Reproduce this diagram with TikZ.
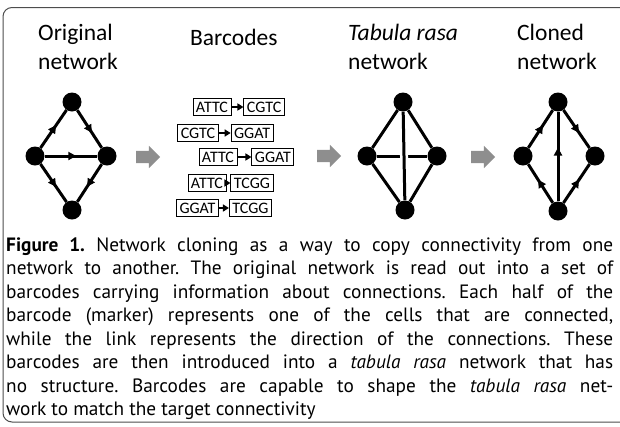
\documentclass[tikz,border=0pt]{standalone}
\usepackage{fontspec}
\setmainfont{PT Sans}
\newfontfamily\calfont{Carlito}
\usepackage{xcolor}
\definecolor{ncink}{HTML}{000000}
\definecolor{ncgrey}{HTML}{8E8E8E}
\definecolor{ncframe}{HTML}{4D4D4D}
\usetikzlibrary{arrows.meta,positioning,calc,decorations.markings,shapes.arrows}
\frenchspacing
\tikzset{
  nccell/.style ={circle, fill=ncink, minimum size=19pt, inner sep=0pt},
  ncedge/.style ={line width=3pt, draw=ncink},
  ncdir/.style  ={ncedge, postaction={decorate},
                  decoration={markings, mark=at position 0.6 with {\arrow{Triangle[length=8pt,width=8pt]}}}},
  ncbar/.style  ={rectangle, draw=ncink, line width=0.9pt, minimum height=17pt,
                  inner xsep=3pt, inner ysep=0pt, font=\calfont\fontsize{16}{16}\selectfont},
  nclink/.style ={-{Triangle[length=6pt,width=7pt]}, line width=1.6pt, draw=ncink},
  ncpush/.style ={single arrow, fill=ncgrey, draw=none, minimum height=24pt,
                  minimum width=22pt, single arrow head extend=5pt, inner xsep=0pt, inner ysep=6pt},
  nchead/.style ={anchor=north west, align=left, inner sep=0pt,
                  font=\calfont\fontsize{23.5}{29}\selectfont},
  nccap/.style  ={anchor=base west, inner sep=0pt, text width=607pt, align=justify,
                  font=\fontsize{19.3}{23.5}\selectfont},
}

\begin{document}
\begin{tikzpicture}[x=1pt, y=-1pt]
  \useasboundingbox (0,0) rectangle (620,426);
  \draw[ncframe, line width=1pt, rounded corners=9pt] (3,7.5) rectangle (700,422);

  % column titles
  \node[nchead] (hOrig) at (38,24) {Original\\network};
  \node[nchead] (hBar)  at (190,29) {Barcodes};
  \node[nchead] (hTab)  at (348,24) {\textit{Tabula rasa}\\network};
  \node[nchead] (hClo)  at (517,24) {Cloned\\network};

  % cells of the three networks
  \foreach \n/\x/\y in {oT/72/102, oL/35/156, oR/107/156, oB/72/210,
                        tT/403/102, tL/367/156, tR/437/156, tB/405/210,
                        cT/558/102, cL/523/156, cR/595/156, cB/558/211}
    \node[nccell] (\n) at (\x,\y) {};

  % original network
  \foreach \a/\b in {oL/oT, oT/oR, oL/oR, oL/oB, oR/oB}
    \draw[ncdir] (\a) -- (\b);

  % tabula rasa network
  \draw[ncedge] (tL) -- (tR);
  \draw[ncedge, preaction={draw=white, line width=8pt}] (tT) -- (tB);
  \foreach \a/\b in {tT/tL, tT/tR, tL/tB, tR/tB}
    \draw[ncedge] (\a) -- (\b);

  % cloned network
  \foreach \a/\b in {cL/cT, cT/cR, cB/cT, cB/cL, cB/cR}
    \draw[ncdir] (\a) -- (\b);

  % barcodes
  \foreach \i/\x/\y/\gap/\from/\to in {1/212/107/12pt/ATTC/CGTC, 2/198/133/12pt/CGTC/GGAT,
      3/218/157/14pt/ATTC/GGAT, 4/207/183/4pt/ATTC/TCGG, 5/197.5/208/10pt/GGAT/TCGG}{
    \node[ncbar] (f\i) at (\x,\y) {\from};
    \node[ncbar, right=\gap of f\i] (t\i) {\to};
    \draw[nclink] (f\i) -- (t\i);
  }

  % grey steps between panels
  \node[ncpush] (p1) at (145,157) {};
  \node[ncpush] (p2) at (326,156) {};
  \node[ncpush] (p3) at (480,157) {};

  \node[nccap] (cap) at (6,251) {\textbf{Figure 1.} Network cloning as a way to copy connectivity from one\linebreak
    network to another. The original network is read out into a set of\linebreak
    barcodes carrying information about connections. Each half of the\linebreak
    barcode (marker) represents one of the cells that are connected,\linebreak
    while the link represents the direction of the connections. These\linebreak
    barcodes are then introduced into a \textit{tabula rasa} network that has\linebreak
    no structure. Barcodes are capable to shape the \textit{tabula rasa} net-\linebreak
    work to match the target connectivity};
\end{tikzpicture}
\end{document}
